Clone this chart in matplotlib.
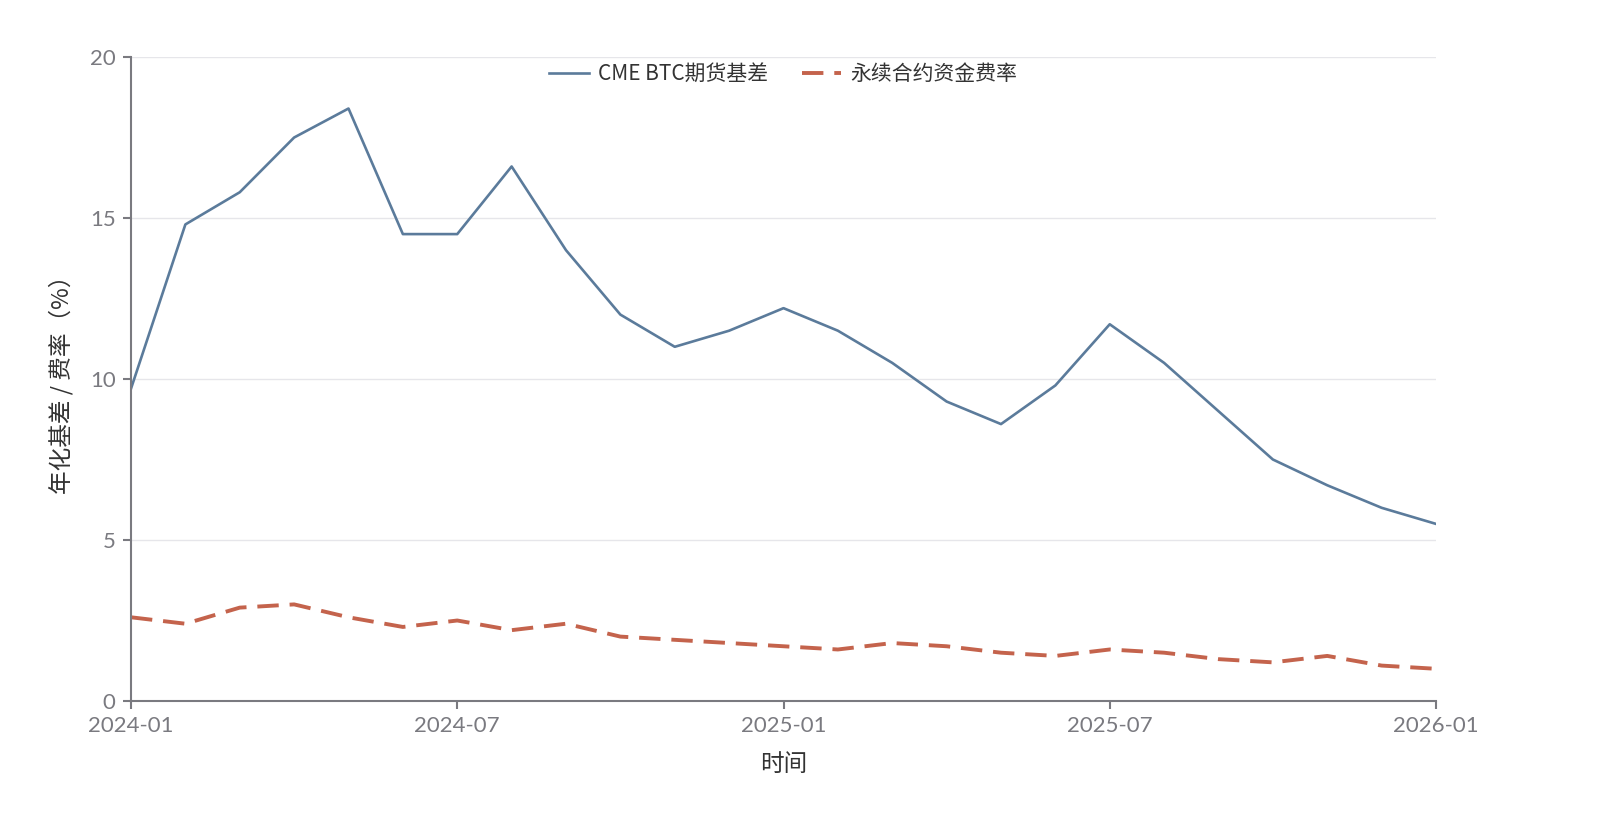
import matplotlib
matplotlib.use("Agg")
import matplotlib.pyplot as plt

plt.rcParams['font.family'] = ['Noto Sans CJK SC', 'DejaVu Sans']

months = list(range(25))
tick_pos = [0, 6, 12, 18, 24]
tick_labels = ["2024-01", "2024-07", "2025-01", "2025-07", "2026-01"]
cme_basis = [9.7, 14.8, 15.8, 17.5, 18.4, 14.5, 14.5, 16.6, 14.0, 12.0, 11.0, 11.5,
             12.2, 11.5, 10.5, 9.3, 8.6, 9.8, 11.7, 10.5, 9.0, 7.5, 6.7, 6.0, 5.5]
funding = [2.6, 2.4, 2.9, 3.0, 2.6, 2.3, 2.5, 2.2, 2.4, 2.0, 1.9, 1.8,
           1.7, 1.6, 1.8, 1.7, 1.5, 1.4, 1.6, 1.5, 1.3, 1.2, 1.4, 1.1, 1.0]

fig = plt.figure(figsize=(16, 8.22), dpi=100)
ax = fig.add_axes([131/1600, 1-701/822, (1436-131)/1600, (701-57)/822])

ax.plot(months, cme_basis, color="#5b7b9b", lw=1.9, label="CME BTC期货基差")
ax.plot(months, funding, color="#c4634c", lw=2.8, dashes=(5.5, 2.8), label="永续合约资金费率")

ax.set_xlim(0, 24)
ax.set_ylim(0, 20)
ax.set_yticks([0, 5, 10, 15, 20])
ax.set_xticks(tick_pos)
ax.set_xticklabels(tick_labels)
ax.grid(axis='y', color="#e6e6ea", lw=1)
ax.set_axisbelow(True)
for s in ['top', 'right']:
    ax.spines[s].set_visible(False)
for s in ['left', 'bottom']:
    ax.spines[s].set_color("#7a7a80")
    ax.spines[s].set_linewidth(1.5)
ax.tick_params(axis='both', colors="#7a7a80", labelsize=15, length=6, width=1.5, pad=5)
for lab in ax.get_xticklabels() + ax.get_yticklabels():
    lab.set_family(['Lato', 'Noto Sans CJK SC'])
    lab.set_fontsize(16)

ax.set_xlabel("时间", fontsize=17, color="#333333", labelpad=12)
ax.set_ylabel("年化基差 / 费率（%）", fontsize=17, color="#333333", labelpad=12)

leg = ax.legend(loc='upper center', bbox_to_anchor=(0.5, 1.02), ncol=2, frameon=False,
                fontsize=15, handlelength=1.9, handletextpad=0.45, columnspacing=1.6,
                labelcolor="#333333")

fig.savefig("out.png", dpi=100, facecolor="white")
